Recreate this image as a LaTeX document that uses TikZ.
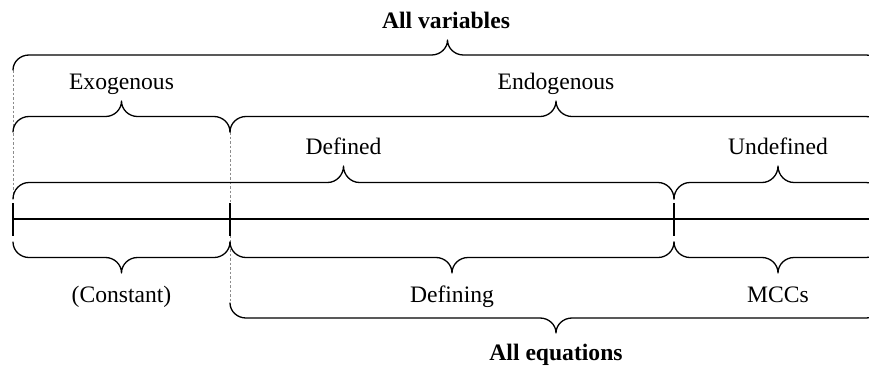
\documentclass[tikz,border=0pt]{standalone}
\usepackage{fontspec}
\setmainfont{Liberation Serif}
\tikzset{
  brc/.style={line width=1.3pt, line join=round, line cap=round},
  lbl/.style={font=\fontsize{23.6}{28}\selectfont, anchor=base, inner sep=0pt},
  blbl/.style={font=\fontsize{23.6}{28}\selectfont\bfseries, anchor=base, inner sep=0pt},
  guide/.style={black!45, line width=0.8pt, dash pattern=on 2.5pt off 2pt},
  tickline/.style={line width=1.4pt},
  axisline/.style={line width=2.8pt}
}
\newcommand{\bw}{16}
% #1 x1, #2 x2, #3 y of ends, #4 signed height (negative = tip up)
\newcommand{\hbrace}[4]{%
  \pgfmathsetmacro\bxm{(#1+#2)/2}%
  \pgfmathsetmacro\bys{#3+(#4)/2}%
  \pgfmathsetmacro\byt{#3+(#4)}%
  \pgfmathsetmacro\bya{#3+0.55*(#4)/2}%
  \pgfmathsetmacro\byb{#3+(#4)/2+0.45*(#4)/2}%
  \draw[brc] (#1,#3) .. controls (#1,\bya) and (#1+0.45*\bw,\bys) .. (#1+\bw,\bys)
    -- (\bxm-\bw,\bys)
    .. controls (\bxm-0.45*\bw,\bys) and (\bxm,\byb) .. (\bxm,\byt)
    .. controls (\bxm,\byb) and (\bxm+0.45*\bw,\bys) .. (\bxm+\bw,\bys)
    -- (#2-\bw,\bys) .. controls (#2-0.45*\bw,\bys) and (#2,\bya) .. (#2,#3);%
}
\begin{document}
\begin{tikzpicture}[x=1pt,y=-1pt]
\useasboundingbox (0,0) rectangle (869,367);
\clip (0,0) rectangle (869,367);
% guides
\coordinate (ga) at (13,70);
\coordinate (gb) at (13,199);
\coordinate (gc) at (230,132);
\coordinate (gd) at (230,303);
\draw[guide] (ga) -- (gb);
\draw[guide] (gc) -- (gd);
% braces above
\hbrace{13}{882}{70}{-30}
\hbrace{13}{230}{132}{-31}
\hbrace{230}{882}{132}{-31}
\hbrace{13}{674}{199}{-33}
\hbrace{674}{882}{199}{-33}
% braces below
\hbrace{13}{230}{242}{31}
\hbrace{230}{674}{242}{31}
\hbrace{674}{882}{242}{31}
\hbrace{230}{882}{303}{30}
% ticks and axis
\coordinate (t1a) at (13,203); \coordinate (t1b) at (13,236);
\coordinate (t2a) at (230,203); \coordinate (t2b) at (230,236);
\coordinate (t3a) at (674,203); \coordinate (t3b) at (674,236);
\draw[tickline] (t1a) -- (t1b);
\draw[tickline] (t2a) -- (t2b);
\draw[tickline] (t3a) -- (t3b);
\coordinate (axl) at (13,219);
\coordinate (axr) at (875,219);
\draw[axisline] (axl) -- (axr);
% labels
\node[blbl] (allvar) at (446,28) {All variables};
\node[lbl] (exo) at (121.5,89) {Exogenous};
\node[lbl] (endo) at (556,89) {Endogenous};
\node[lbl] (def) at (343.5,154) {Defined};
\node[lbl] (undef) at (778,154) {Undefined};
\node[lbl] (const) at (121.5,302) {(Constant)};
\node[lbl] (defing) at (452,302) {Defining};
\node[lbl] (mcc) at (778,302) {MCCs};
\node[blbl] (alleq) at (556,360) {All equations};
\end{tikzpicture}
\end{document}
